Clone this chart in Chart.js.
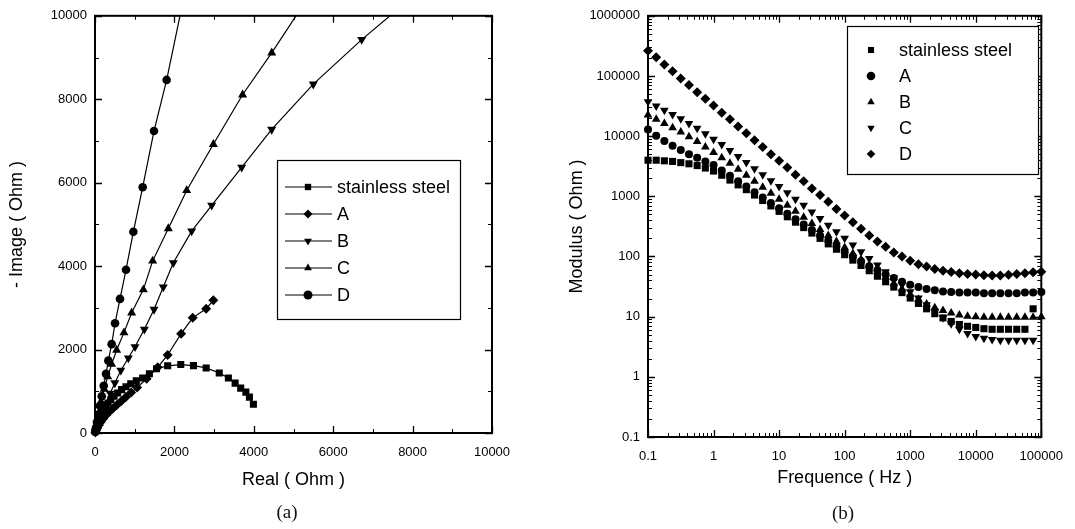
<!DOCTYPE html>
<html>
<head>
<meta charset="utf-8">
<script src="https://cdn.jsdelivr.net/npm/chart.js@4.4.1/dist/chart.umd.min.js"></script>
<style>
  html, body { margin: 0; padding: 0; background: #fff; }
  body { width: 1075px; height: 529px; position: relative; overflow: hidden; }
  .panel { position: absolute; top: 0; }
  .cap { position: absolute; font-family: 'Liberation Serif', 'DejaVu Serif', serif; font-size: 19px; color: #111; transform: translate(-50%, -50%); }
</style>
</head>
<body>
<canvas id="nyquist" class="panel" width="530" height="529" style="left:0"></canvas>
<canvas id="bode" class="panel" width="545" height="529" style="left:530px"></canvas>
<div class="cap" style="left:287px; top:512px">(a)</div>
<div class="cap" style="left:843px; top:513px">(b)</div>
<script>
// ---- (a) Nyquist data : real / -imag (Ohm)
const ssReal = [10, 25, 45, 70, 100, 135, 175, 220, 270, 330, 400, 480, 570, 670, 780, 900, 1040, 1200, 1370, 1550, 1830, 2160, 2480, 2800, 3130, 3360, 3530, 3670, 3800, 3890, 3990];
const ssImag = [40, 100, 170, 240, 320, 400, 480, 560, 640, 720, 800, 880, 960, 1040, 1110, 1180, 1250, 1320, 1420, 1540, 1610, 1640, 1615, 1560, 1440, 1320, 1195, 1075, 980, 860, 690];
const aReal = [10, 30, 60, 100, 150, 210, 280, 360, 450, 550, 660, 780, 910, 1060, 1300, 1580, 1830, 2170, 2460, 2800, 2980];
const aImag = [20, 60, 120, 190, 270, 350, 430, 510, 590, 670, 760, 860, 970, 1090, 1300, 1575, 1870, 2380, 2760, 2980, 3180];
const bReal = [10, 40, 100, 180, 270, 380, 500, 650, 840, 1008, 1243, 1486, 1720, 1973, 2435, 2939, 3695, 4451, 5499, 6718, 7950];
const bImag = [30, 110, 280, 480, 700, 950, 1200, 1500, 1798, 2067, 2487, 2962, 3500, 4080, 4838, 5456, 6366, 7276, 8361, 9430, 10415];
const cReal = [10, 40, 90, 150, 230, 320, 420, 546, 730, 924, 1218, 1453, 1847, 2309, 2981, 3717, 4451, 5300];
const cImag = [50, 220, 470, 750, 1050, 1350, 1650, 1988, 2406, 2881, 3437, 4126, 4900, 5812, 6920, 8107, 9113, 10340];
const dReal = [5, 20, 50, 85, 125, 170, 220, 277, 336, 420, 504, 630, 781, 966, 1201, 1486, 1805, 2250];
const dImag = [25, 100, 260, 440, 650, 880, 1130, 1418, 1734, 2130, 2629, 3214, 3912, 4822, 5891, 7237, 8463, 10500];
const linTicks = [0, 2000, 4000, 6000, 8000, 10000];
const linMinor = [1000, 3000, 5000, 7000, 9000];

// ---- (b) Bode modulus data
const freqHz = [0.1, 0.1334, 0.1778, 0.2371, 0.3162, 0.4217, 0.5623, 0.7499,
  1, 1.334, 1.778, 2.371, 3.162, 4.217, 5.623, 7.499,
  10, 13.34, 17.78, 23.71, 31.62, 42.17, 56.23, 74.99,
  100, 133.4, 177.8, 237.1, 316.2, 421.7, 562.3, 749.9,
  1000, 1334, 1778, 2371, 3162, 4217, 5623, 7499,
  10000, 13335, 17783, 23714, 31623, 42170, 56234, 74989,
  100000];
const modSS = [3980, 3980, 3890, 3800, 3630, 3470, 3240, 2950,
  2630, 2240, 1860, 1550, 1290, 1050, 851, 692,
  562, 457, 372, 302, 245, 200, 162, 132,
  107, 87, 71, 58, 47, 38, 31, 25.1,
  20.4, 16.6, 13.5, 11.2, 9.55, 8.32, 7.41, 6.92,
  6.61, 6.31, 6.17, 6.17, 6.17, 6.17, 6.17, 13.5,
  null];
const modA = [12900, 10200, 8320, 6920, 5890, 5010, 4370, 3800,
  3310, 2690, 2190, 1780, 1450, 1170, 955, 776,
  631, 513, 417, 339, 275, 224, 182, 148,
  120, 100, 83, 69, 59, 50, 44, 38,
  34, 31, 28.8, 27.5, 26.3, 25.7, 25.1, 25.1,
  25.1, 24.5, 24.5, 24.5, 24.5, 24.5, 25.1, 25.1,
  25.7];
const modB = [22400, 19100, 16200, 13800, 11700, 9770, 8130, 6610,
  5370, 4370, 3550, 2820, 2240, 1780, 1410, 1120,
  891, 708, 562, 447, 355, 282, 224, 178,
  141, 112, 89, 71, 56, 45, 35.5, 28.8,
  23.4, 19.5, 16.2, 14.1, 12.6, 11.5, 10.7, 10.2,
  10.0, 9.8, 9.8, 9.8, 9.8, 9.8, 9.8, 9.8,
  10.0];
const modC = [37150, 31600, 26900, 22900, 19500, 16200, 13500, 11000,
  8910, 7240, 5750, 4570, 3630, 2880, 2290, 1820,
  1450, 1150, 891, 708, 550, 427, 331, 257,
  200, 155, 120, 93, 72, 56, 44, 34,
  26, 20.4, 15.8, 12.3, 9.55, 7.59, 6.17, 5.25,
  4.68, 4.37, 4.17, 4.07, 4.07, 4.07, 4.07, 4.07,
  null];
const modD = [263000, 204000, 155000, 120000, 91200, 70800, 53700, 41700,
  32400, 24500, 19100, 14500, 11200, 8510, 6610, 5010,
  3890, 3020, 2290, 1780, 1350, 1050, 813, 617,
  479, 372, 288, 224, 178, 145, 117, 100,
  85, 74, 68, 62, 58, 55, 52.5, 51.3,
  50.1, 49, 48.5, 48.5, 49.5, 51, 52.5, 54.5,
  56];
const freqTicks = [0.1, 1, 10, 100, 1000, 10000, 100000];
const modTicks = [0.1, 1, 10, 100, 1000, 10000, 100000, 1000000];

const FONT = "'Liberation Sans', Arial, sans-serif";
Chart.defaults.font.family = FONT;
Chart.defaults.color = '#000';

const toPoints = (xs, ys) => xs.map((x, i) => ({ x: x, y: ys[i] })).filter(p => p.y != null);

// minor ticks for log axes (2..9 x 10^n)
function logMinor(lo, hi) {
  const out = [];
  for (let d = lo; d < hi; d *= 10) {
    for (let k = 2; k <= 9; k++) out.push(+(d * k).toPrecision(3));
  }
  return out;
}

// box frame + inward ticks on all four sides
const frameTicks = {
  id: 'frameTicks',
  afterDatasetsDraw(chart, args, opts) {
    const { ctx, chartArea: a } = chart;
    const xs = chart.scales.x, ys = chart.scales.y;
    ctx.save();
    ctx.strokeStyle = '#000';
    ctx.lineWidth = 1;
    const xt = (vals, len) => vals.forEach(v => {
      const p = Math.round(xs.getPixelForValue(v)) + 0.5;
      ctx.beginPath();
      ctx.moveTo(p, a.bottom); ctx.lineTo(p, a.bottom - len);
      ctx.moveTo(p, a.top); ctx.lineTo(p, a.top + len);
      ctx.stroke();
    });
    const yt = (vals, len) => vals.forEach(v => {
      const p = Math.round(ys.getPixelForValue(v)) + 0.5;
      ctx.beginPath();
      ctx.moveTo(a.left, p); ctx.lineTo(a.left + len, p);
      ctx.moveTo(a.right, p); ctx.lineTo(a.right - len, p);
      ctx.stroke();
    });
    ctx.lineWidth = 1.3;
    xt(opts.xMajor, 7); yt(opts.yMajor, 7);
    ctx.lineWidth = 1;
    xt(opts.xMinor, 4); yt(opts.yMinor, 4);
    ctx.lineWidth = 2;
    ctx.strokeRect(a.left, a.top, a.right - a.left, a.bottom - a.top);
    ctx.restore();
  }
};

// legend drawn inside the plot, boxed
const boxLegend = {
  id: 'boxLegend',
  afterDraw(chart, args, o) {
    const ctx = chart.ctx;
    ctx.save();
    ctx.fillStyle = '#fff';
    ctx.fillRect(o.left, o.top, o.width, o.height);
    ctx.strokeStyle = '#000';
    ctx.lineWidth = 1.2;
    ctx.strokeRect(o.left + 0.5, o.top + 0.5, o.width, o.height);
    ctx.font = '18px ' + FONT;
    ctx.textBaseline = 'middle';
    chart.data.datasets.forEach((ds, i) => {
      const y = o.firstRow + i * o.rowGap;
      ctx.fillStyle = '#000';
      if (o.lineFrom != null) {
        ctx.beginPath();
        ctx.moveTo(o.lineFrom, y); ctx.lineTo(o.lineTo, y);
        ctx.stroke();
      }
      Chart.helpers.drawPoint(ctx, {
        pointStyle: ds.pointStyle, rotation: ds.pointRotation || 0,
        radius: o.markerR, borderWidth: 0
      }, o.markerX, y);
      ctx.fillText(ds.label, o.textX, y + 1);
    });
    ctx.restore();
  }
};

function series(label, pts, style, rot, r, line) {
  return {
    label: label, data: pts, pointStyle: style, pointRotation: rot, pointRadius: r,
    pointBackgroundColor: '#000', pointBorderWidth: 0, backgroundColor: '#000',
    borderColor: '#000', borderWidth: 1.2, showLine: line,
    clip: line ? { left: 12, bottom: 12, top: 0, right: 0 } : false
  };
}

function axis(type, min, max, title, tickVals, size, pad) {
  return {
    type: type, min: min, max: max,
    grid: { display: false, drawTicks: false },
    border: { display: false },
    afterBuildTicks: s => { s.ticks = tickVals.map(v => ({ value: v })); },
    ticks: { autoSkip: false, maxRotation: 0, padding: pad, color: '#000',
      font: { size: 13 }, callback: v => String(v) },
    title: { display: true, text: title, color: '#000', font: { size: 18 }, padding: { top: 4, bottom: 4 } },
    afterFit: s => { if (s.isHorizontal()) s.height = size; else s.width = size; }
  };
}

new Chart(document.getElementById('nyquist'), {
  type: 'scatter',
  data: {
    datasets: [
      series('stainless steel', toPoints(ssReal, ssImag), 'rect', 0, 5, true),
      series('A', toPoints(aReal, aImag), 'rectRot', 0, 5, true),
      series('B', toPoints(bReal, bImag), 'triangle', 180, 5.2, true),
      series('C', toPoints(cReal, cImag), 'triangle', 0, 5.2, true),
      series('D', toPoints(dReal, dImag), 'circle', 0, 4.3, true)
    ]
  },
  options: {
    responsive: false, animation: false, events: [],
    layout: { padding: { left: 2, top: 12, right: 38, bottom: 34 } },
    plugins: {
      legend: { display: false }, tooltip: { enabled: false },
      frameTicks: { xMajor: linTicks, xMinor: linMinor, yMajor: linTicks, yMinor: linMinor },
      boxLegend: { left: 277, top: 160, width: 183, height: 159, firstRow: 187, rowGap: 27,
        lineFrom: 285, lineTo: 332, markerX: 308, textX: 337, markerR: 4.5 }
    },
    scales: {
      x: axis('linear', 0, 10000, 'Real ( Ohm )', linTicks, 62, 12),
      y: axis('linear', 0, 10000, '- Image ( Ohm )', linTicks, 93, 8)
    }
  },
  plugins: [frameTicks, boxLegend]
});

new Chart(document.getElementById('bode'), {
  type: 'scatter',
  data: {
    datasets: [
      series('stainless steel', toPoints(freqHz, modSS), 'rect', 0, 5, false),
      series('A', toPoints(freqHz, modA), 'circle', 0, 4, false),
      series('B', toPoints(freqHz, modB), 'triangle', 0, 5, false),
      series('C', toPoints(freqHz, modC), 'triangle', 180, 5, false),
      series('D', toPoints(freqHz, modD), 'rectRot', 0, 5, false)
    ]
  },
  options: {
    responsive: false, animation: false, events: [],
    layout: { padding: { left: 32, top: 15, right: 29, bottom: 36 } },
    plugins: {
      legend: { display: false }, tooltip: { enabled: false },
      frameTicks: { xMajor: freqTicks, xMinor: logMinor(0.1, 100000),
        yMajor: modTicks, yMinor: logMinor(0.1, 1000000) },
      boxLegend: { left: 317, top: 26, width: 191, height: 148, firstRow: 50, rowGap: 26,
        lineFrom: null, markerX: 341, textX: 369, markerR: 4.3 }
    },
    scales: {
      x: axis('logarithmic', 0.1, 100000, 'Frequence ( Hz )', freqTicks, 56, 12),
      y: axis('logarithmic', 0.1, 1000000, 'Modulus ( Ohm )', modTicks, 86, 8)
    }
  },
  plugins: [frameTicks, boxLegend]
});
</script>
</body>
</html>
